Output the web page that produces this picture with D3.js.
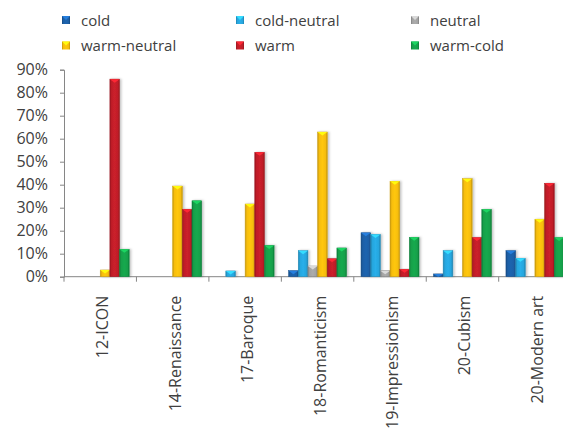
<!DOCTYPE html>
<html>
<head>
<meta charset="utf-8">
<script src="https://cdn.jsdelivr.net/npm/d3@7"></script>
<style>
  html, body { margin: 0; padding: 0; background: #fff; }
  svg { display: block; font-family: "Open Sans", "Noto Sans", sans-serif; }
</style>
</head>
<body>
<svg id="chart" width="563" height="428"></svg>
<script>
// Periods shown along the x axis
const categories = ["12-ICON", "14-Renaissance", "17-Baroque", "18-Romanticism",
                    "19-Impressionism", "20-Cubism", "20-Modern art"];

// Colour-temperature classes (legend order)
const seriesNames = ["cold", "cold-neutral", "neutral", "warm-neutral", "warm", "warm-cold"];

// Share of works per class, one array per class, in category order
const cold        = [0.000, 0.000, 0.000, 0.026, 0.191, 0.012, 0.113];
const coldNeutral = [0.000, 0.000, 0.025, 0.113, 0.184, 0.113, 0.080];
const neutral     = [0.000, 0.000, 0.000, 0.046, 0.026, 0.000, 0.000];
const warmNeutral = [0.029, 0.394, 0.316, 0.629, 0.415, 0.426, 0.250];
const warm        = [0.859, 0.293, 0.541, 0.078, 0.032, 0.170, 0.406];
const warmCold    = [0.119, 0.330, 0.136, 0.125, 0.171, 0.293, 0.170];

const yTicks = [0, 0.1, 0.2, 0.3, 0.4, 0.5, 0.6, 0.7, 0.8, 0.9];

const seriesValues = [cold, coldNeutral, neutral, warmNeutral, warm, warmCold];
const colors = ["#1c5fa6", "#27a6de", "#a3a3a3", "#f6bd0c", "#c01e28", "#15a04a"];

const svg = d3.select("#chart");
const defs = svg.append("defs");

// Bevelled look: darker edges, lighter middle, for each class colour
colors.forEach((c, i) => {
  const base = d3.color(c);
  const g = defs.append("linearGradient")
    .attr("id", "grad" + i).attr("x1", "0").attr("x2", "1").attr("y1", "0").attr("y2", "0");
  g.append("stop").attr("offset", "0%").attr("stop-color", base.darker(0.7));
  g.append("stop").attr("offset", "18%").attr("stop-color", base);
  g.append("stop").attr("offset", "50%").attr("stop-color", base.brighter(0.15));
  g.append("stop").attr("offset", "82%").attr("stop-color", base);
  g.append("stop").attr("offset", "100%").attr("stop-color", base.darker(0.7));
});
defs.append("filter").attr("id", "shadow")
  .attr("x", "-30%").attr("y", "-10%").attr("width", "180%").attr("height", "130%")
  .append("feDropShadow").attr("dx", 1.5).attr("dy", 0).attr("stdDeviation", 1)
  .attr("flood-color", "#000").attr("flood-opacity", 0.25);

const plotLeft = 64, plotTop = 69.7, plotBottom = 276.7;
const groupW = 72.45;
const plotRight = plotLeft + groupW * categories.length;

const x0 = d3.scaleBand().domain(categories).range([plotLeft, plotRight]).padding(0);
const x1 = d3.scaleBand().domain(seriesNames)
  .range([x0.bandwidth() * 0.1, x0.bandwidth() * 0.9]).padding(0);
const y = d3.scaleLinear().domain([0, 0.9]).range([plotBottom, plotTop]);

const axisColor = "#868686";
const textColor = "#404040";

// Y axis
const yAxis = svg.append("g").attr("transform", `translate(${plotLeft},0)`)
  .call(d3.axisLeft(y).tickValues(yTicks).tickFormat(d3.format(".0%")).tickSize(4).tickPadding(12));
yAxis.select(".domain").attr("stroke", axisColor);
yAxis.selectAll(".tick line").attr("stroke", axisColor);
yAxis.selectAll(".tick text").attr("fill", textColor).attr("font-size", 16)
  .attr("font-family", "'Open Sans', sans-serif");

// X axis: baseline with ticks at category boundaries
const xg = svg.append("g");
xg.append("line").attr("x1", plotLeft).attr("x2", plotRight)
  .attr("y1", plotBottom).attr("y2", plotBottom).attr("stroke", axisColor);
xg.selectAll("line.bound").data(categories.concat([null])).join("line")
  .attr("class", "bound")
  .attr("x1", (d, i) => plotLeft + x0.step() * i).attr("x2", (d, i) => plotLeft + x0.step() * i)
  .attr("y1", plotBottom).attr("y2", plotBottom + 5).attr("stroke", axisColor);
xg.selectAll("text").data(categories).join("text")
  .attr("transform", d => `translate(${x0(d) + x0.bandwidth() / 2 + 8},${plotBottom + 19}) rotate(-90)`)
  .attr("text-anchor", "end")
  .attr("fill", textColor).attr("font-size", 16)
  .text(d => d);

// Bars
const groups = svg.append("g").selectAll("g").data(categories).join("g")
  .attr("transform", d => `translate(${x0(d)},0)`);

groups.each(function (cat, ci) {
  const g = d3.select(this);
  seriesNames.forEach((s, si) => {
    const v = seriesValues[si][ci];
    if (v <= 0) return;
    const bx = x1(s), bw = x1.bandwidth();
    const by = y(v), bh = plotBottom - by;
    const bar = g.append("g").attr("filter", "url(#shadow)");
    bar.append("rect")
      .attr("x", bx).attr("y", by).attr("width", bw).attr("height", bh)
      .attr("fill", `url(#grad${si})`)
      .attr("stroke", d3.color(colors[si]).darker(0.5)).attr("stroke-width", 0.5);
    // lighter bevel cap on top
    const capH = Math.min(3.5, bh);
    bar.append("path")
      .attr("d", `M${bx},${by}L${bx + bw},${by}L${bx + bw / 2},${by + capH}Z`)
      .attr("fill", d3.color(colors[si]).brighter(0.8));
  });
});

// Legend: two rows of three entries
const legend = svg.append("g");
const colX = [62, 236, 411];
const rowY = [20, 45.5];
seriesNames.forEach((s, i) => {
  const lx = colX[i % 3], ly = rowY[Math.floor(i / 3)];
  const item = legend.append("g");
  item.append("rect").attr("x", lx).attr("y", ly - 4).attr("width", 8).attr("height", 8)
    .attr("fill", `url(#grad${i})`);
  item.append("path")
    .attr("d", `M${lx},${ly - 4}L${lx + 8},${ly - 4}L${lx + 4},${ly}Z`)
    .attr("fill", d3.color(colors[i]).brighter(0.8));
  item.append("text").attr("x", lx + 19).attr("y", ly + 5.5)
    .attr("fill", textColor).attr("font-size", 15).text(s);
});
</script>
</body>
</html>
